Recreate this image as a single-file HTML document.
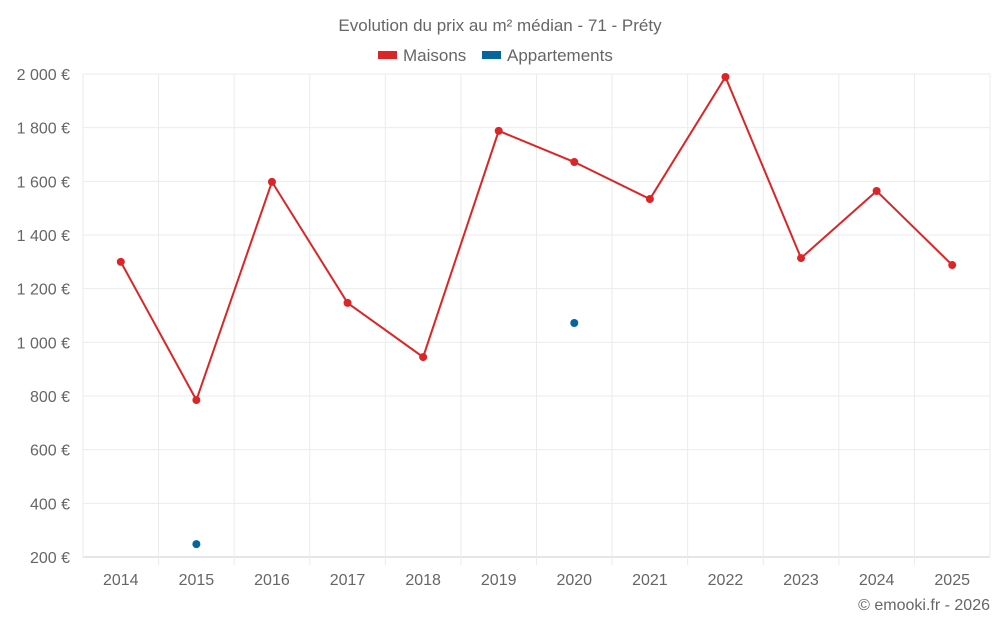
<!DOCTYPE html>
<html><head><meta charset="utf-8"><style>
body{margin:0;background:#fff;font-family:"Liberation Sans",sans-serif;}
svg text{font-family:"Liberation Sans",sans-serif;fill:#666;}
</style></head><body>
<svg id="chart" width="1000" height="625" viewBox="0 0 1000 625">
<text x="500" y="31" text-anchor="middle" font-size="17">Evolution du prix au m² médian - 71 - Préty</text>
<g>
<g><rect x="378" y="51" width="19" height="8" fill="#dc2526"/><text x="403" y="61" font-size="17">Maisons</text></g>
<g><rect x="482" y="51" width="19" height="8" fill="#05659f"/><text x="507" y="61" font-size="17">Appartements</text></g>
</g>
<g id="grid"></g><g id="axes"></g><g id="series"></g>
<text x="990" y="610" text-anchor="end" font-size="16">© emooki.fr - 2026</text>
</svg>
<script>
const categories=["2014","2015","2016","2017","2018","2019","2020","2021","2022","2023","2024","2025"];
const maisons=[1300,785,1598,1147,945,1788,1672,1534,1989,1314,1564,1288];
const appartements=[null,248,null,null,null,null,1072,null,null,null,null,null];
const yTicks=[200,400,600,800,1000,1200,1400,1600,1800,2000];
const yLabels=["200 €","400 €","600 €","800 €","1 000 €","1 200 €","1 400 €","1 600 €","1 800 €","2 000 €"];
const NS="http://www.w3.org/2000/svg";
const L=83,R=990,T=74,B=557,yMin=200,yMax=2000;
const band=(R-L)/categories.length;
function xs(i){return L+band*(i+0.5);}
function ys(v){return B-(v-yMin)/(yMax-yMin)*(B-T);}
function mk(tag,attrs,parent){const e=document.createElementNS(NS,tag);for(const k in attrs)e.setAttribute(k,attrs[k]);parent.appendChild(e);return e;}
const grid=document.getElementById('grid'),axes=document.getElementById('axes'),series=document.getElementById('series');
yTicks.forEach((v,i)=>{
 const l=mk('line',{x1:L,x2:R,y1:ys(v),y2:ys(v),stroke:i==0?'#ccc':'#ebebeb','stroke-width':1},grid);
 
 
 const t=mk('text',{x:70,y:ys(v)+6,'text-anchor':'end','font-size':16},axes);
 t.textContent=yLabels[i];
 
 
});
for(let i=0;i<=categories.length;i++){
 const x=L+band*i;
 const l=mk('line',{x1:x,x2:x,y1:T,y2:B+(i==0||i==categories.length?0:8),stroke:'#ebebeb','stroke-width':1},grid);
 
 
}
categories.forEach((c,i)=>{
 const t=mk('text',{x:xs(i),y:585,'text-anchor':'middle','font-size':16},axes);
 t.textContent=c;
 
 
});
const pts=maisons.map((v,i)=>xs(i)+','+ys(v)).join(' ');
const pl=mk('polyline',{points:pts,fill:'none',stroke:'#dc2526','stroke-width':2},series);


maisons.forEach((v,i)=>{
 const c=mk('circle',{cx:xs(i),cy:ys(v),r:4,fill:'#dc2526'},series);
 
 
});
appartements.forEach((v,i)=>{
 if(v==null)return;
 const c=mk('circle',{cx:xs(i),cy:ys(v),r:4,fill:'#05659f'},series);
 
 
});
</script>
</body></html>
